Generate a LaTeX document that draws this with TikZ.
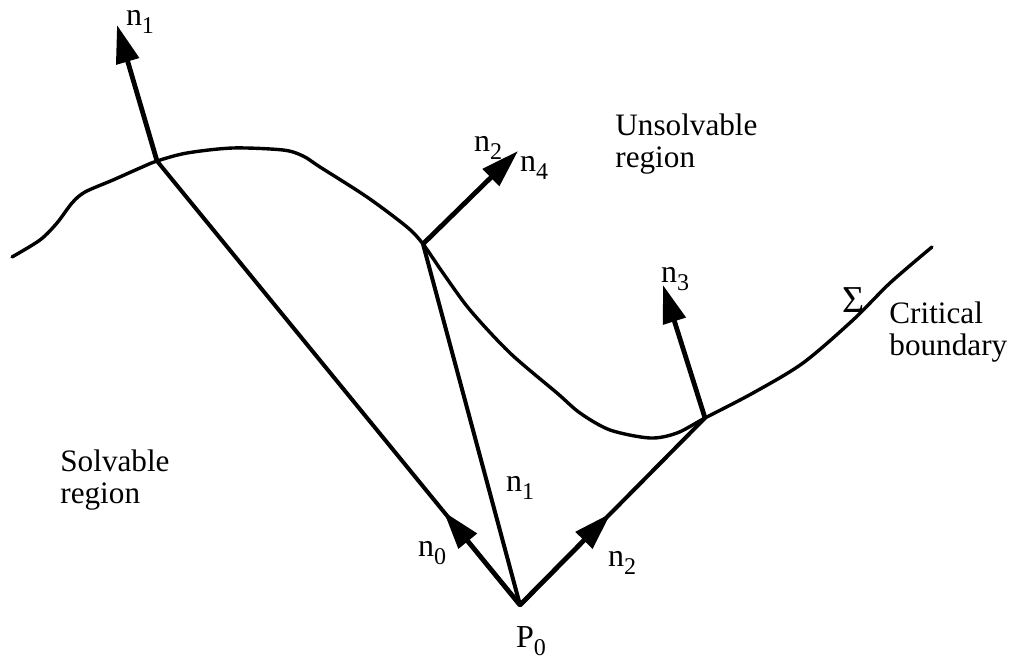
\documentclass[tikz,border=0pt]{standalone}
\usepackage{fontspec}
\setmainfont{Liberation Serif}
\usetikzlibrary{arrows.meta,calc}
\newcommand\lowsub[1]{\raisebox{-4pt}{\fontsize{12}{12}\selectfont #1}}
\begin{document}
\begin{tikzpicture}[x=0.5pt,y=-0.5pt,
  curve/.style={line width=1.7pt, line join=round, line cap=round},
  seg/.style={line width=2pt, line cap=round},
  vec/.style={line width=2.4pt, -{Triangle[length=19pt,width=11.5pt]}},
  lbl/.style={inner sep=0pt, font=\fontsize{16}{17}\selectfont},
  txt/.style={inner sep=0pt, align=left, anchor=west, font=\fontsize{15.6}{15.7}\selectfont}]
\useasboundingbox (0,0) rectangle (1013,658);
% key points
\coordinate (A) at (157,161);
\coordinate (B) at (423,244);
\coordinate (C) at (705,418);
\coordinate (P0) at (520,605);
\coordinate (t1) at (117,25);
\coordinate (t4) at (518,151);
\coordinate (t3) at (663,285);
\coordinate (t0) at ($(P0)!0.21!(A)$);
\coordinate (t2) at ($(P0)!0.49!(C)$);
% critical boundary
\draw[curve] plot[smooth, tension=0.5] coordinates {
 (12,257) (40,240) (57,223) (72,203) (85,192) (113,180) (140,168) (157,161)
 (187,153) (233,148) (283,150) (303,156) (320,167) (367,197) (407,227) (423,244)
 (443,273) (470,310) (510,353) (557,393) (580,413) (610,430) (650,438) (677,433)
 (705,418) (753,393) (803,363) (853,320) (890,283) (932,247)};
% lines from P0
\draw[seg] (P0) -- (A);
\draw[seg] (P0) -- (B);
\draw[seg] (P0) -- (C);
% vectors
\draw[vec] (P0) -- (t0);
\draw[vec] (P0) -- (t2);
\draw[vec] (A) -- (t1);
\draw[vec] (B) -- (t4);
\draw[vec] (C) -- (t3);
% labels
\node[lbl] (ln1top) at (140,22) {n\lowsub{1}};
\node[lbl] (ln2top) at (488,148) {n\lowsub{2}};
\node[lbl] (ln4) at (534,168) {n\lowsub{4}};
\node[lbl] (ln3) at (675,279) {n\lowsub{3}};
\node[lbl, font=\fontsize{19}{19}\selectfont] (lsig) at (854,300) {Σ};
\node[lbl] (ln1) at (520,488) {n\lowsub{1}};
\node[lbl] (ln0) at (432,553) {n\lowsub{0}};
\node[lbl] (ln2) at (622,563) {n\lowsub{2}};
\node[lbl] (lP0) at (531,641) {P\lowsub{0}};
\node[txt] (unsolv) at (615,144) {Unsolvable\\region};
\node[txt] (crit) at (889,332) {Critical\\boundary};
\node[txt] (solv) at (60,480) {Solvable\\region};
\end{tikzpicture}
\end{document}
